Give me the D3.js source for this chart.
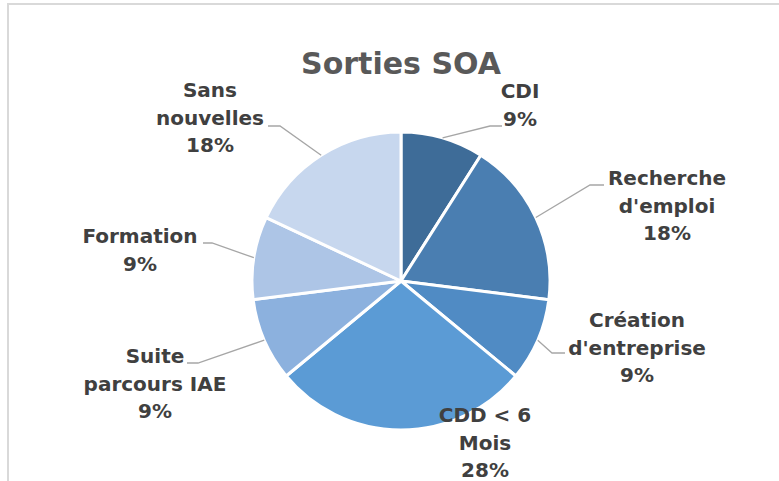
<!DOCTYPE html>
<html>
<head>
<meta charset="utf-8">
<script src="https://cdn.jsdelivr.net/npm/d3@7"></script>
<style>
  body { margin: 0; background: #fff; }
  text { font-family: "DejaVu Sans", sans-serif; font-weight: bold; }
</style>
</head>
<body>
<div id="chart"></div>
<script>
var categories = ['CDI', "Recherche d'emploi", "Création d'entreprise", 'CDD < 6 Mois', 'Suite parcours IAE', 'Formation', 'Sans nouvelles'];
var values = [9, 18, 9, 28, 9, 9, 18];
var colors = ['#3e6c98', '#4a7eb1', '#508bc4', '#5b9bd5', '#8cb1de', '#adc5e6', '#c7d7ee'];

// label layout: text lines, text centre x, first baseline, leader elbow
var labelLines = [['CDI', '9%'], ['Recherche', "d'emploi", '18%'], ['Création', "d'entreprise", '9%'],
                  ['CDD < 6', 'Mois', '28%'], ['Suite', 'parcours IAE', '9%'], ['Formation', '9%'],
                  ['Sans', 'nouvelles', '18%']];
var labelPos = [
  {x: 520, y: 98, elbow: [490, 126], end: 502},
  {x: 667, y: 185, elbow: [590, 185], end: 604},
  {x: 637, y: 327, elbow: [552, 353], end: 565},
  {x: 485, y: 422, elbow: null},
  {x: 155, y: 363, elbow: [198, 363], end: 187},
  {x: 140, y: 243, elbow: [212, 243], end: 203},
  {x: 210, y: 97, elbow: [280, 126], end: 268}
];

var width = 779;
var height = 481;
var radius = 149;
var cx = 401, cy = 281;

var svg = d3.select('#chart')
            .append('svg')
            .attr('width', width)
            .attr('height', height);

// chart border (runs off right and bottom edge)
svg.append('rect')
   .attr('x', 8).attr('y', 4)
   .attr('width', 800).attr('height', 500)
   .attr('fill', 'none')
   .attr('stroke', '#d9d9d9')
   .attr('stroke-width', 2);

svg.append('text')
   .attr('x', 401).attr('y', 74)
   .attr('text-anchor', 'middle')
   .attr('font-size', 30)
   .attr('fill', '#595959')
   .text('Sorties SOA');

var data = categories.map((c, i) => ({name: c, value: values[i], color: colors[i], i: i}));

var pie = d3.pie()
            .value(d => d.value)
            .sort(null);

var arc = d3.arc()
            .innerRadius(0)
            .outerRadius(radius);

var g = svg.append('g')
           .attr('transform', 'translate(' + cx + ',' + cy + ')');

var arcs = pie(data);

g.selectAll('path')
 .data(arcs)
 .enter()
 .append('path')
 .attr('d', arc)
 .attr('fill', d => d.data.color)
 .attr('stroke', '#fff')
 .attr('stroke-width', 3)
 .attr('stroke-linejoin', 'round');

// leader lines
arcs.forEach(function(d) {
  var p = labelPos[d.data.i];
  if (!p.elbow) return;
  var mid = (d.startAngle + d.endAngle) / 2;
  var sx = cx + radius * Math.sin(mid);
  var sy = cy - radius * Math.cos(mid);
  svg.append('polyline')
     .attr('points', [[sx, sy], p.elbow, [p.end, p.elbow[1]]].map(q => q.join(',')).join(' '))
     .attr('fill', 'none')
     .attr('stroke', '#a6a6a6')
     .attr('stroke-width', 1.3);
});

// labels
labelLines.forEach(function(lines, i) {
  var p = labelPos[i];
  var t = svg.append('text')
             .attr('text-anchor', 'middle')
             .attr('font-size', 20)
             .attr('fill', '#404040');
  lines.forEach(function(s, k) {
    t.append('tspan')
     .attr('x', p.x)
     .attr('y', p.y + k * 27.5)
     .text(s);
  });
});
</script>
</body>
</html>
